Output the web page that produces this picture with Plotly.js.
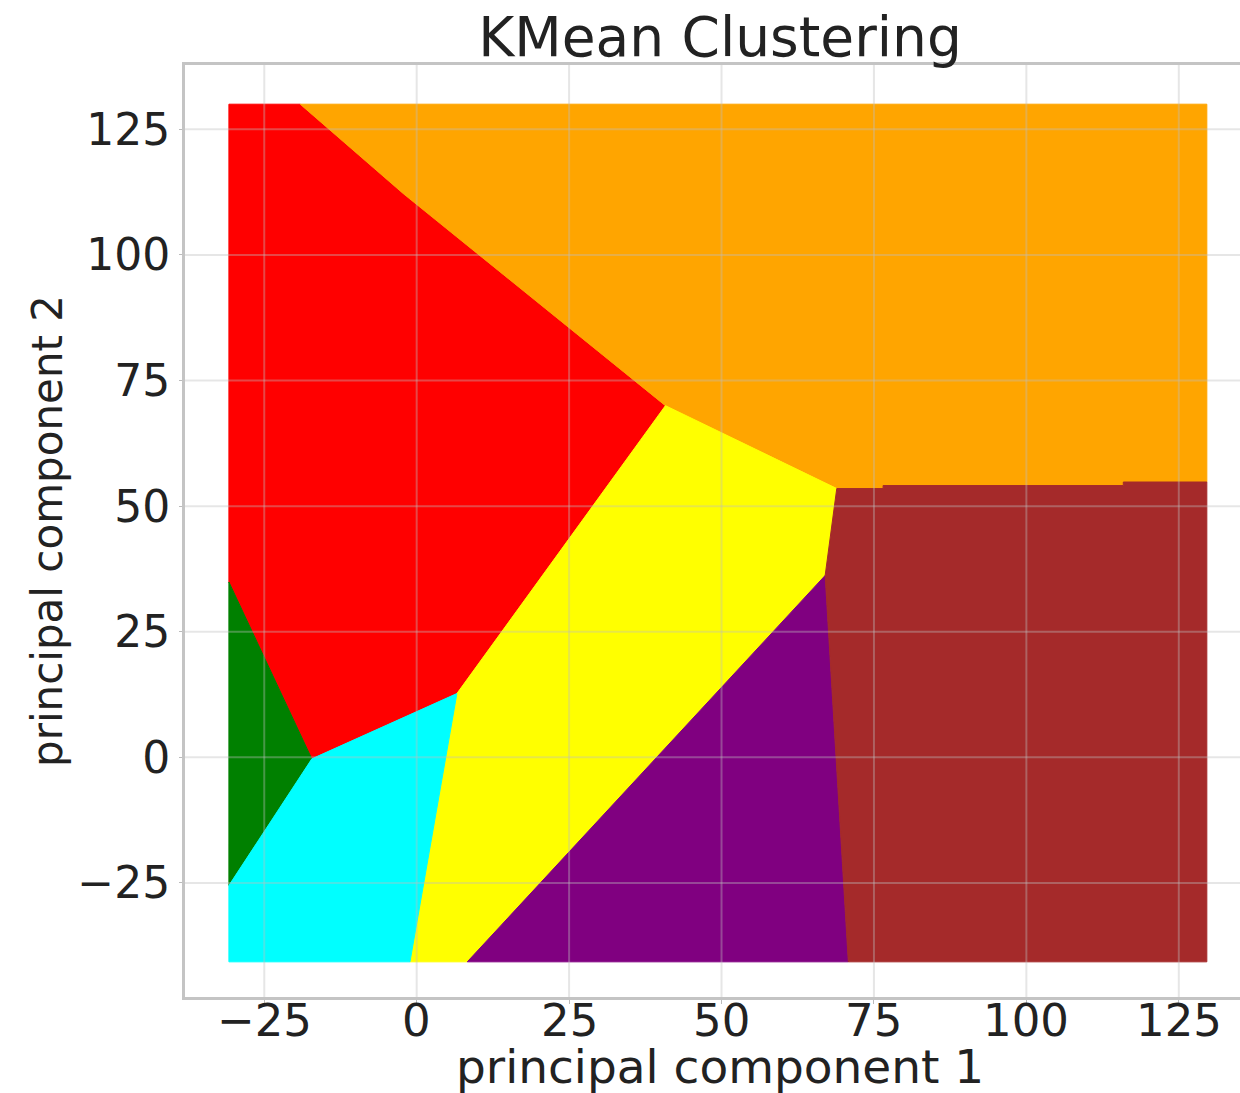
<!DOCTYPE html>
<html>
<head>
<meta charset="utf-8">
<script src="https://cdn.plot.ly/plotly-3.0.1.min.js"></script>
<style>
  html, body { margin: 0; padding: 0; overflow: hidden; background: #ffffff; }
  #chart { width: 1262px; height: 1093px; }
</style>
</head>
<body>
<div id="chart"></div>
<script>
// Cluster decision regions (polygon vertices)
const redX    = [-30.8, -19.1, -2.2, 40.8, 6.6, -17.2, -30.8];
const redY    = [130.0, 130.0, 112.2, 70.0, 12.7, -0.3, 34.9];

const orangeX = [-19.1, 129.6, 129.6, 115.9, 115.9, 76.5, 76.5, 68.9, 40.8, -2.2];
const orangeY = [130.0, 130.0, 54.8, 54.8, 54.1, 54.1, 53.5, 53.5, 70.0, 112.2];

const yellowX = [40.8, 68.9, 67.0, 8.3, -1.1, 6.6];
const yellowY = [70.0, 53.5, 36.2, -40.7, -40.7, 12.7];

const purpleX = [67.0, 70.8, 8.3];
const purpleY = [36.2, -40.7, -40.7];

const brownX  = [68.9, 76.5, 76.5, 115.9, 115.9, 129.6, 129.6, 70.8, 67.0];
const brownY  = [53.5, 53.5, 54.1, 54.1, 54.8, 54.8, -40.7, -40.7, 36.2];

const greenX  = [-30.8, -17.2, -30.8];
const greenY  = [34.9, -0.3, -25.5];

const cyanX   = [-30.8, -17.2, 6.6, -1.1, -30.8];
const cyanY   = [-25.5, -0.3, 12.7, -40.7, -40.7];

const clusterNames  = ['red', 'orange', 'yellow', 'purple', 'brown', 'green', 'cyan'];
const clusterColors = ['#ff0000', '#ffa500', '#ffff00', '#800080', '#a52a2a', '#008000', '#00ffff'];
const clusterXs = [redX, orangeX, yellowX, purpleX, brownX, greenX, cyanX];
const clusterYs = [redY, orangeY, yellowY, purpleY, brownY, greenY, cyanY];

const xTicks = [-25, 0, 25, 50, 75, 100, 125];
const xTickText = ['\u221225', '0', '25', '50', '75', '100', '125'];
const yTicks = [-25, 0, 25, 50, 75, 100, 125];
const yTickText = ['\u221225', '0', '25', '50', '75', '100', '125'];

const titleText = 'KMean Clustering';
const xTitle = 'principal component 1';
const yTitle = 'principal component 2';

const traces = clusterNames.map((n, i) => ({
  type: 'scatter',
  mode: 'lines',
  name: n,
  x: clusterXs[i].concat([clusterXs[i][0]]),
  y: clusterYs[i].concat([clusterYs[i][0]]),
  fill: 'toself',
  fillcolor: clusterColors[i],
  line: { color: clusterColors[i], width: 1 },
  hoverinfo: 'skip',
  showlegend: false
}));

const gridColor = 'rgba(190,190,190,0.38)';
const shapes = [];
xTicks.forEach(v => shapes.push({
  type: 'line', xref: 'x', yref: 'paper', x0: v, x1: v, y0: 0, y1: 1,
  line: { color: gridColor, width: 2 }, layer: 'above'
}));
yTicks.forEach(v => shapes.push({
  type: 'line', xref: 'paper', yref: 'y', x0: 0, x1: 1, y0: v, y1: v,
  line: { color: gridColor, width: 2 }, layer: 'above'
}));

const font = 'DejaVu Sans, sans-serif';
const textColor = '#222222';

// x tick labels and x title placed as annotations for exact vertical placement
const annotations = xTicks.map((v, i) => ({
  x: v, xref: 'x', y: 0, yref: 'paper',
  xanchor: 'center', yanchor: 'top', yshift: 5,
  text: xTickText[i], showarrow: false,
  font: { family: font, size: 45, color: textColor }
}));
annotations.push({
  x: 0.5, xref: 'paper', y: 0, yref: 'paper',
  xanchor: 'center', yanchor: 'top', yshift: -40,
  text: xTitle, showarrow: false,
  font: { family: font, size: 47, color: textColor }
});

const layout = {
  width: 1262,
  height: 1093,
  margin: { l: 185, r: 7, t: 65, b: 96 },
  paper_bgcolor: '#ffffff',
  plot_bgcolor: '#ffffff',
  title: {
    text: titleText,
    font: { family: font, size: 55, color: textColor },
    x: 0.5, xref: 'paper', xanchor: 'center',
    y: 1 - 17 / 1093, yref: 'container', yanchor: 'top'
  },
  xaxis: {
    range: [-38, 137.5],
    tickvals: xTicks,
    showticklabels: false,
    showgrid: false,
    zeroline: false,
    showline: true, mirror: true, linecolor: '#c4c4c4', linewidth: 3,
    ticks: 'outside', ticklen: 4, tickwidth: 1, tickcolor: '#bbbbbb'
  },
  yaxis: {
    range: [-47.7, 137.8],
    tickvals: yTicks,
    ticktext: yTickText,
    showgrid: false,
    zeroline: false,
    showline: true, mirror: true, linecolor: '#c4c4c4', linewidth: 3,
    ticks: 'outside', ticklen: 3, tickwidth: 1, tickcolor: '#bbbbbb',
    tickfont: { family: font, size: 44, color: textColor },
    title: { text: yTitle, font: { family: font, size: 42, color: textColor }, standoff: 2 }
  },
  shapes: shapes,
  annotations: annotations
};

Plotly.newPlot('chart', traces, layout, { displayModeBar: false, staticPlot: true });
</script>
</body>
</html>
